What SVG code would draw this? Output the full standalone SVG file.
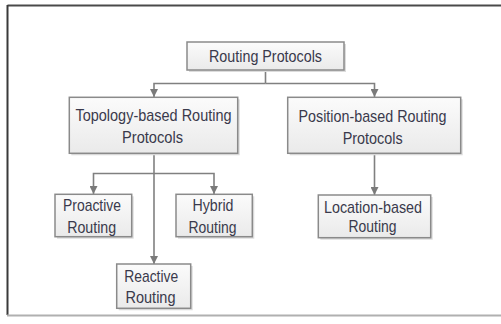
<svg xmlns="http://www.w3.org/2000/svg" width="501" height="324" viewBox="0 0 501 324">
<defs>
<linearGradient id="bg" x1="0" y1="0" x2="0" y2="1">
<stop offset="0" stop-color="#fbfbfb"/>
<stop offset="1" stop-color="#eaeaea"/>
</linearGradient>
<marker id="ah" viewBox="0 0 8 8" refX="8" refY="4" markerWidth="8" markerHeight="8" markerUnits="userSpaceOnUse" orient="auto">
<path d="M0,0 L8,4 L0,8 Z" fill="#7a7a7a"/>
</marker>
</defs>
<style>
.box{fill:url(#bg);stroke:#8a8a8a;stroke-width:1.5}
.sh{fill:#dcdcdc}
.t{font-family:"Liberation Sans",Arial,sans-serif;font-size:17px;fill:#3a3a4c;text-anchor:middle}
.c{fill:none;stroke:#808080;stroke-width:1.6}
.ca{fill:none;stroke:#808080;stroke-width:1.6;marker-end:url(#ah)}
</style>
<rect width="501" height="324" fill="#ffffff"/>
<g id="frame">
<line x1="7.5" y1="5.5" x2="501" y2="5.5" stroke="#4a4a4a" stroke-width="2"/>
<line x1="7.5" y1="5" x2="7.5" y2="315" stroke="#3a3a3a" stroke-width="2"/>
<line x1="7" y1="315.5" x2="501" y2="315.5" stroke="#b0b0b0" stroke-width="2"/>
</g>
<g id="connectors">
<polyline class="c" points="265.5,70 265.5,83.5"/>
<polyline class="ca" points="265.5,83.5 154,83.5 154,97"/>
<polyline class="ca" points="265.5,83.5 374.5,83.5 374.5,97"/>
<polyline class="ca" points="154,153.5 154,264"/>
<polyline class="ca" points="154,173.5 93.5,173.5 93.5,194"/>
<polyline class="ca" points="154,173.5 214,173.5 214,194"/>
<polyline class="ca" points="374.5,153.5 374.5,195"/>
</g>
<g id="root">
<rect class="sh" x="189" y="44" width="157" height="28"/>
<rect class="box" x="187" y="42" width="157" height="28"/>
<text class="t" x="265.5" y="61.5" textLength="113" lengthAdjust="spacingAndGlyphs">Routing Protocols</text>
</g>
<g id="topology">
<rect class="sh" x="71.3" y="99.3" width="168.4" height="56"/>
<rect class="box" x="69.3" y="97.3" width="168.4" height="56"/>
<text class="t" x="153.5" y="121" textLength="156" lengthAdjust="spacingAndGlyphs">Topology-based Routing</text>
<text class="t" x="152.5" y="143" textLength="61" lengthAdjust="spacingAndGlyphs">Protocols</text>
</g>
<g id="position">
<rect class="sh" x="289.7" y="99.3" width="173" height="56"/>
<rect class="box" x="287.7" y="97.3" width="173" height="56"/>
<text class="t" x="372.5" y="122" textLength="148" lengthAdjust="spacingAndGlyphs">Position-based Routing</text>
<text class="t" x="372.7" y="143.5" textLength="60" lengthAdjust="spacingAndGlyphs">Protocols</text>
</g>
<g id="proactive">
<rect class="sh" x="57" y="196.3" width="76.7" height="42.4"/>
<rect class="box" x="55" y="194.3" width="76.7" height="42.4"/>
<text class="t" x="92" y="211" textLength="58" lengthAdjust="spacingAndGlyphs">Proactive</text>
<text class="t" x="91.7" y="232.5" textLength="49" lengthAdjust="spacingAndGlyphs">Routing</text>
</g>
<g id="hybrid">
<rect class="sh" x="178" y="196.3" width="76.3" height="42.4"/>
<rect class="box" x="176" y="194.3" width="76.3" height="42.4"/>
<text class="t" x="213" y="211" textLength="41" lengthAdjust="spacingAndGlyphs">Hybrid</text>
<text class="t" x="212.5" y="232.5" textLength="48" lengthAdjust="spacingAndGlyphs">Routing</text>
</g>
<g id="reactive">
<rect class="sh" x="118.7" y="266" width="74" height="44.3"/>
<rect class="box" x="116.7" y="264" width="74" height="44.3"/>
<text class="t" x="151.2" y="282" textLength="54" lengthAdjust="spacingAndGlyphs">Reactive</text>
<text class="t" x="150.5" y="303" textLength="50" lengthAdjust="spacingAndGlyphs">Routing</text>
</g>
<g id="location">
<rect class="sh" x="320.3" y="197" width="112.4" height="42.7"/>
<rect class="box" x="318.3" y="195" width="112.4" height="42.7"/>
<text class="t" x="373" y="213" textLength="98" lengthAdjust="spacingAndGlyphs">Location-based</text>
<text class="t" x="372.5" y="232" textLength="48" lengthAdjust="spacingAndGlyphs">Routing</text>
</g>
</svg>
